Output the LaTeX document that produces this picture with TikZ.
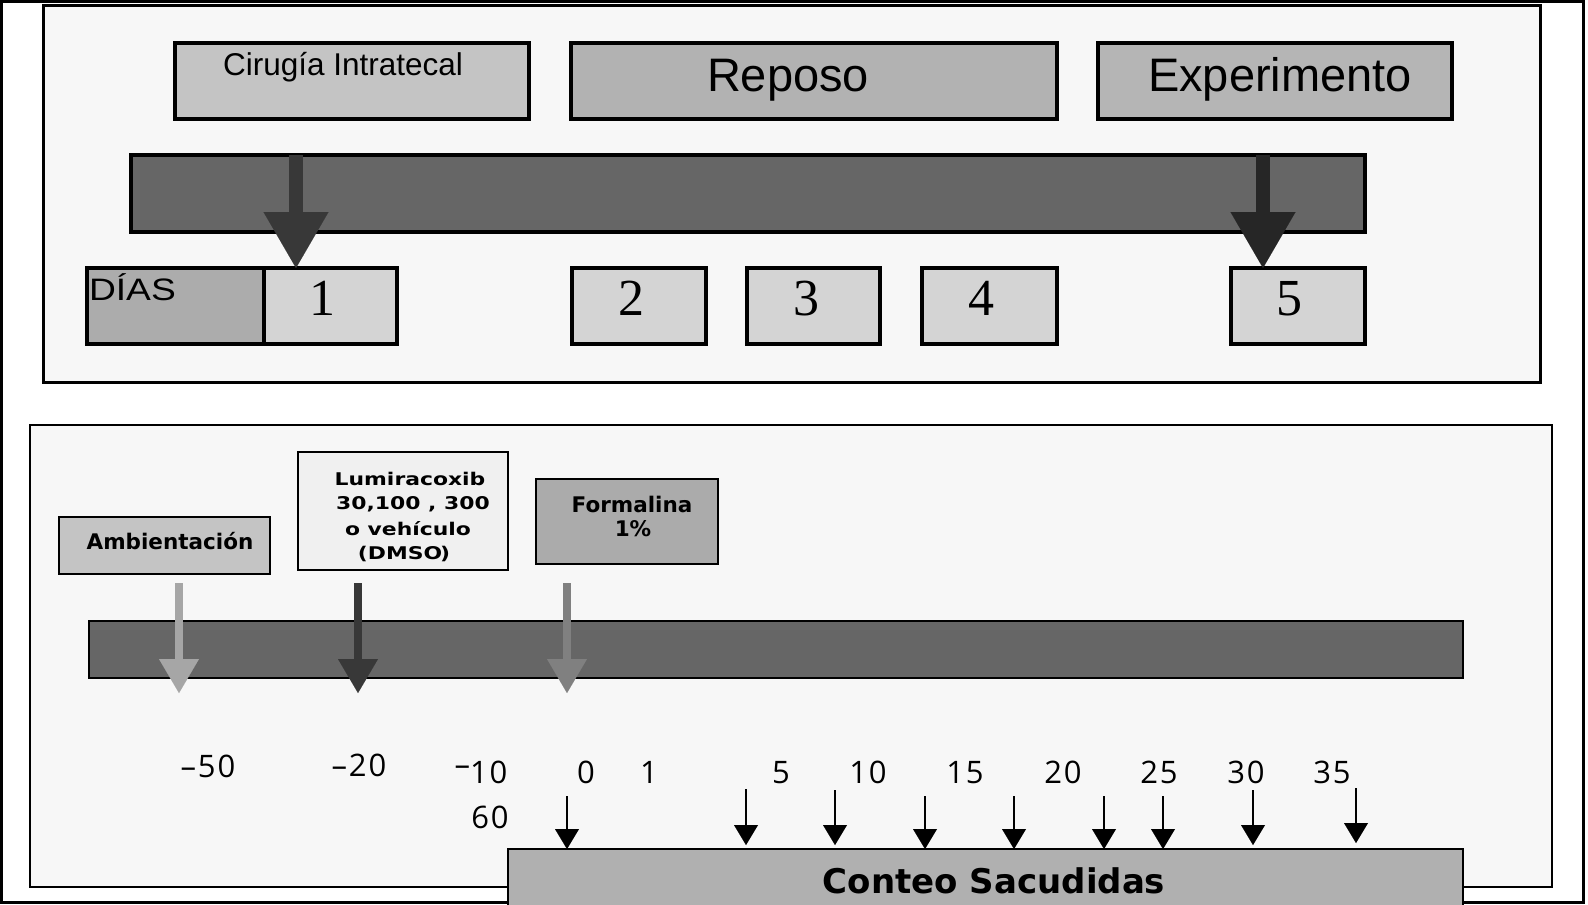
\documentclass[tikz,border=0pt]{standalone}
\usepackage{fontspec}
\setmainfont{Liberation Sans}
\newfontfamily\timesf{Liberation Serif}
\newfontfamily\diasf[FakeStretch=1.2]{Liberation Sans}
\newfontfamily\verdf{DejaVu Sans}
\newfontfamily\verdwide[FakeStretch=1.25]{DejaVu Sans}
\newfontfamily\numf[LetterSpace=6]{Open Sans}
\usetikzlibrary{arrows.meta}

\definecolor{pnl}{gray}{0.97}
\definecolor{cir}{gray}{0.77}
\definecolor{rep}{gray}{0.70}
\definecolor{expc}{gray}{0.71}
\definecolor{barc}{gray}{0.40}
\definecolor{dayc}{gray}{0.83}
\definecolor{diasc}{gray}{0.675}
\definecolor{araa}{gray}{0.22}
\definecolor{arbb}{gray}{0.15}
\definecolor{ambc}{gray}{0.77}
\definecolor{lumc}{gray}{0.94}
\definecolor{formc}{gray}{0.67}
\definecolor{contc}{gray}{0.69}
\definecolor{aamb}{gray}{0.65}
\definecolor{alum}{gray}{0.22}
\definecolor{aform}{gray}{0.50}

\newcommand\mybox[6]{%
  \node[#6, minimum width={#4-#2}, minimum height={#5-#3}]
    (#1) at ({(#2+#4)/2},{(#3+#5)/2}) {};}

\tikzset{
  bx/.style={draw=black, inner sep=0pt, outer sep=0pt, rectangle},
  lbl/.style={inner sep=0pt, outer sep=0pt, anchor=base},
  toparrow/.style={line width=14pt, -{Triangle[width=65pt,length=56pt,line width=0.01pt]}},
  botarrow/.style={line width=8pt, -{Triangle[width=40pt,length=34pt,line width=0.01pt]}},
  tick/.style={line width=2pt, draw=black, -{Triangle[width=24pt,length=20pt,line width=0.01pt]}},
}

\begin{document}
\begin{tikzpicture}[x=1pt,y=-1pt]
\useasboundingbox (0,0) rectangle (1588,905);
\fill[white] (0,0) rectangle (1588,905);

% outer frame
\mybox{frame}{1.5}{1.5}{1583}{902.5}{bx, line width=3pt}

% ---------- top panel ----------
\mybox{toppanel}{43}{5}{1540}{382}{bx, fill=pnl, line width=3pt}
\mybox{cirugia}{175}{43}{529}{119}{bx, fill=cir, line width=3.2pt}
\mybox{reposo}{571}{43}{1057}{119}{bx, fill=rep, line width=3.2pt}
\mybox{experimento}{1098}{43}{1452}{119}{bx, fill=expc, line width=3.2pt}
\node[lbl] (cirugia-t) at (343,75) {\fontsize{31.5}{36}\selectfont Cirugía Intratecal};
\node[lbl] (reposo-t) at (788,91) {\fontsize{47}{54}\selectfont Reposo};
\node[lbl] (experimento-t) at (1280,91) {\fontsize{47}{54}\selectfont Experimento};

\mybox{topbar}{131}{155}{1365}{232}{bx, fill=barc, line width=3.2pt}

\mybox{dias}{87}{268}{264}{344}{bx, fill=diasc, line width=3.2pt}
\mybox{d1}{264}{268}{397}{344}{bx, fill=dayc, line width=3.2pt}
\mybox{d2}{572}{268}{706}{344}{bx, fill=dayc, line width=3.2pt}
\mybox{d3}{747}{268}{880}{344}{bx, fill=dayc, line width=3.2pt}
\mybox{d4}{922}{268}{1057}{344}{bx, fill=dayc, line width=3.2pt}
\mybox{d5}{1231}{268}{1365}{344}{bx, fill=dayc, line width=3.2pt}
\node[lbl, anchor=base west] (dias-t) at (89,300) {\diasf\fontsize{31}{36}\selectfont DÍAS};
\node[lbl] (d1-t) at (322,315) {\timesf\fontsize{52}{60}\selectfont 1};
\node[lbl] (d2-t) at (631,315) {\timesf\fontsize{52}{60}\selectfont 2};
\node[lbl] (d3-t) at (806,315) {\timesf\fontsize{52}{60}\selectfont 3};
\node[lbl] (d4-t) at (981,315) {\timesf\fontsize{52}{60}\selectfont 4};
\node[lbl] (d5-t) at (1289,315) {\timesf\fontsize{52}{60}\selectfont 5};

\coordinate (a1s) at (296,155);
\coordinate (a5s) at (1263,155);
\draw[toparrow, draw=araa] (a1s) -- (a1s |- d1.north);
\draw[toparrow, draw=arbb] (a5s) -- (a5s |- d5.north);

% ---------- bottom panel ----------
\mybox{botpanel}{30}{425}{1552}{887}{bx, fill=pnl, line width=2.6pt}
\mybox{amb}{59}{517}{270}{574}{bx, fill=ambc, line width=2.6pt}
\mybox{lum}{298}{452}{508}{570}{bx, fill=lumc, line width=2.6pt}
\mybox{form}{536}{479}{718}{564}{bx, fill=formc, line width=2.6pt}
\node[lbl] (amb-t) at (170,549) {\verdf\bfseries\fontsize{21.5}{26}\selectfont Ambientación};
\node[lbl] (lum-t1) at (410,485) {\verdwide\bfseries\fontsize{17.5}{21}\selectfont Lumiracoxib};
\node[lbl] (lum-t2) at (413,509) {\verdwide\bfseries\fontsize{17.5}{21}\selectfont 30,100 , 300};
\node[lbl] (lum-t3) at (408,535) {\verdwide\bfseries\fontsize{17.5}{21}\selectfont o vehículo};
\node[lbl] (lum-t4) at (404,559) {\verdwide\bfseries\fontsize{17.5}{21}\selectfont (DMSO\kern-2pt)};
\node[lbl] (form-t1) at (632,512) {\verdf\bfseries\fontsize{21.5}{25}\selectfont Formalina};
\node[lbl] (form-t2) at (633,536) {\verdf\bfseries\fontsize{21.5}{25}\selectfont 1\%};

\mybox{botbar}{89}{621}{1463}{678}{bx, fill=barc, line width=2.6pt}

\coordinate (ambs) at (179,583);  \coordinate (ambe) at (179,693);
\coordinate (lums) at (358,583);  \coordinate (lume) at (358,693);
\coordinate (forms) at (567,583); \coordinate (forme) at (567,693);
\draw[botarrow, draw=aamb] (ambs) -- (ambe);
\draw[botarrow, draw=alum] (lums) -- (lume);
\draw[botarrow, draw=aform] (forms) -- (forme);

% time labels
\begin{scope}[every node/.style={lbl}]
\node (n-50) at (208,777) {\numf\fontsize{31}{36}\selectfont –50};
\node (n-20) at (359,776) {\numf\fontsize{31}{36}\selectfont –20};
\node (n-10) at (481,783) {\numf\fontsize{31}{36}\selectfont \raisebox{8pt}{–}10};
\node (n60) at (490,828) {\numf\fontsize{31}{36}\selectfont 60};
\node (n0) at (586,783) {\numf\fontsize{31}{36}\selectfont 0};
\node (n1) at (649,783) {\numf\fontsize{31}{36}\selectfont 1};
\node (n5) at (781,783) {\numf\fontsize{31}{36}\selectfont 5};
\node (n10) at (868,783) {\numf\fontsize{31}{36}\selectfont 10};
\node (n15) at (965,783) {\numf\fontsize{31}{36}\selectfont 15};
\node (n20) at (1063,783) {\numf\fontsize{31}{36}\selectfont 20};
\node (n25) at (1159,783) {\numf\fontsize{31}{36}\selectfont 25};
\node (n30) at (1246,783) {\numf\fontsize{31}{36}\selectfont 30};
\node (n35) at (1332,783) {\numf\fontsize{31}{36}\selectfont 35};
\end{scope}

% counting box
\mybox{conteo}{508}{849}{1463}{915}{bx, fill=contc, line width=2.6pt}
\node[lbl] (conteo-t) at (994,893) {\verdf\bfseries\fontsize{34}{40}\selectfont Conteo Sacudidas};

% tick arrows
\coordinate (t0) at (567,796);
\coordinate (t5) at (746,789);
\coordinate (t10) at (835,790);
\coordinate (t15) at (925,796);
\coordinate (t20) at (1014,796);
\coordinate (t25) at (1104,796);
\coordinate (t30) at (1163,796);
\coordinate (t35) at (1253,790);
\coordinate (t40) at (1356,788);
\draw[tick] (t0) -- (t0 |- conteo.north);
\draw[tick] (t5) -- ([yshift=4pt]t5 |- conteo.north);
\draw[tick] (t10) -- ([yshift=4pt]t10 |- conteo.north);
\draw[tick] (t15) -- (t15 |- conteo.north);
\draw[tick] (t20) -- (t20 |- conteo.north);
\draw[tick] (t25) -- (t25 |- conteo.north);
\draw[tick] (t30) -- (t30 |- conteo.north);
\draw[tick] (t35) -- ([yshift=4pt]t35 |- conteo.north);
\draw[tick] (t40) -- ([yshift=6pt]t40 |- conteo.north);
\end{tikzpicture}
\end{document}
